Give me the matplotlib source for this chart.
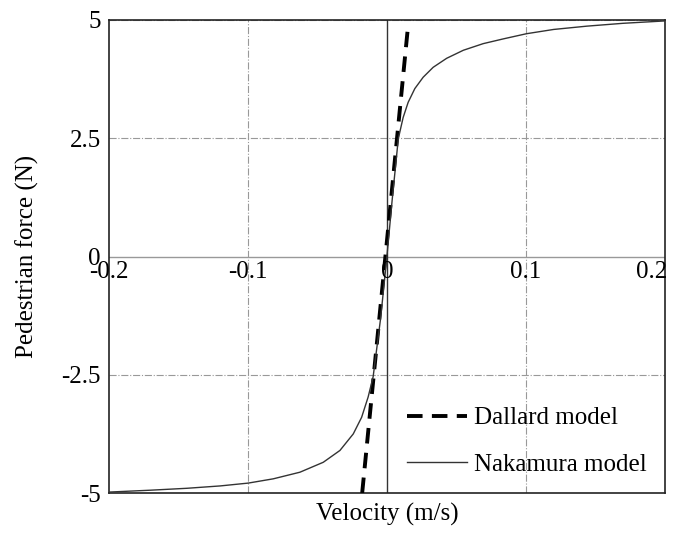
import matplotlib.pyplot as plt

# values
velocity_nak = [-0.2, -0.17, -0.144, -0.12, -0.0998, -0.0818, -0.0626, -0.0458, -0.0338, -0.0242,
                -0.0182, -0.0135, -0.0099, -0.0045, 0.0,
                0.0038, 0.0082, 0.0117, 0.0153, 0.0201, 0.0261, 0.0333, 0.043, 0.055, 0.0693,
                0.0837, 0.1005, 0.12, 0.144, 0.17, 0.2]
force_nak = [-4.98, -4.94, -4.9, -4.85, -4.79, -4.7, -4.56, -4.35, -4.1, -3.75,
             -3.4, -2.97, -2.54, -1.3, 0.0,
             1.2, 2.49, 2.94, 3.26, 3.55, 3.79, 4.0, 4.19, 4.36, 4.5,
             4.6, 4.71, 4.8, 4.87, 4.93, 4.98]
velocity_dal = [-0.0178, 0.0148]
force_dal = [-5.0, 4.75]
xticks = [-0.2, -0.1, 0, 0.1, 0.2]
xtick_labels = ["-0.2", "-0.1", "0", "0.1", "0.2"]
yticks = [-5, -2.5, 0, 2.5, 5]
ytick_labels = ["-5", "-2.5", "0", "2.5", "5"]

plt.rcParams['font.family'] = ['Liberation Serif', 'DejaVu Serif']
plt.rcParams['font.size'] = 18

fig = plt.figure(figsize=(6.77, 5.33), dpi=100)
ax = fig.add_axes([0.161, 0.075, 0.821, 0.8875])

# grid lines
for x in [-0.1, 0.1]:
    ax.axvline(x, color='#999999', lw=0.8, ls='-.', zorder=1)
for y in [-2.5, 2.5, 5]:
    ax.axhline(y, color='#999999', lw=0.8, ls='-.', zorder=1)
ax.axhline(0, color='#999999', lw=1.0, zorder=1)
ax.axvline(0, color='#333333', lw=1.0, zorder=1)

ax.plot(velocity_dal, force_dal, color='black', lw=2.8, ls=(0, (4, 2.4)), label='Dallard model', zorder=3)
ax.plot(velocity_nak, force_nak, color='#333333', lw=1.0, label='Nakamura model', zorder=3)

ax.set_xlim(-0.2, 0.2)
ax.set_ylim(-5, 5)
ax.set_xticks([])
ax.set_yticks(yticks)
ax.set_yticklabels(ytick_labels)
ax.tick_params(axis='y', length=0, pad=6, labelsize=18)

# x tick labels sit on the zero line; the last one is pulled in so it fits
for x, lab in zip(xticks, xtick_labels):
    t = ax.text(x, -0.1, lab, ha='center', va='top', fontsize=18)
    if lab == "0.2":
        t.set_ha('right')
        t.set_x(x + 0.002)

for s in ax.spines.values():
    s.set_linewidth(1.2)
    s.set_color('#222222')

ax.set_xlabel("Velocity (m/s)", fontsize=18, labelpad=7)
ax.set_ylabel("Pedestrian force (N)", fontsize=18, labelpad=16)

ax.legend(loc='lower right', frameon=False, fontsize=18, handlelength=2.4,
          handletextpad=0.3, labelspacing=0.95, borderaxespad=0.2,
          bbox_to_anchor=(0.995, 0.005))

fig.savefig("out.png", dpi=100)
